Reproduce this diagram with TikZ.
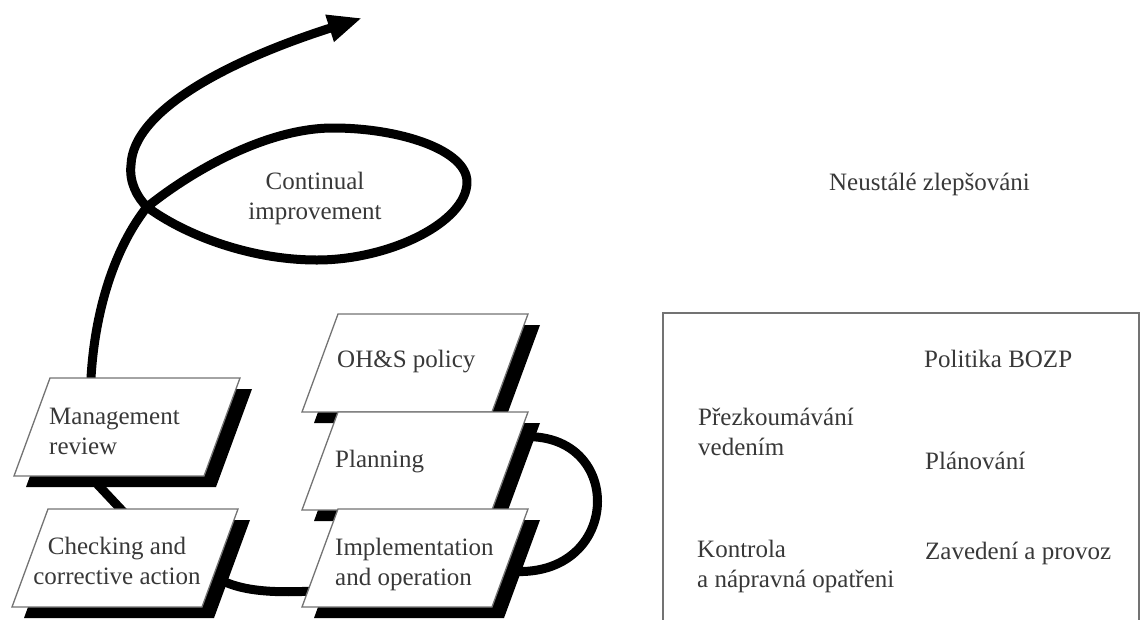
\documentclass[tikz,border=0pt]{standalone}
\usepackage{fontspec}
\setmainfont{Liberation Serif}
\usetikzlibrary{arrows.meta}
\tikzset{
  conn/.style={line width=9pt, black, line join=round},
  boxedge/.style={draw=black!55, line width=1.3pt, fill=white},
  lbl/.style={font=\fontsize{25}{30}\selectfont, text=black!78, inner sep=0pt},
  frameline/.style={draw=black!55, line width=1.3pt},
}
\newcommand\slantbox[3]{% name, x, y (top-left corner, pixel coords)
  \fill[black] (#2+12,#3+11) -- ++(190,0) -- ++(-36,98) -- ++(-190,0) -- cycle;
  \draw[boxedge] (#2,#3) coordinate (#1) -- ++(190,0) -- ++(-36,98) -- ++(-190,0) -- cycle;
}
\begin{document}
\begin{tikzpicture}[x=1pt,y=-1pt]
\useasboundingbox (0,0) rectangle (1141,619);
% connector points
\coordinate (s0) at (92,440);
\coordinate (cross) at (147,207);
\coordinate (etop) at (333,128);
\coordinate (eright) at (467,182);
\coordinate (ebot) at (317,260);
\coordinate (lleft) at (131,165);
\coordinate (tip) at (362,18);
\coordinate (mc1) at (84,470);
\coordinate (mc2) at (131,520);
\coordinate (ci1) at (200,565);
\coordinate (ci2) at (330,590);
\coordinate (pi1) at (500,440);
\coordinate (pi2) at (500,570);
% spiral
\draw[conn, -{Triangle[length=34pt,width=26pt]}]
  (s0) .. controls (84,350) and (105,260) .. (cross)
       .. controls (197,167) and (270,128) .. (etop)
       .. controls (400,128) and (467,150) .. (eright)
       .. controls (467,222) and (390,260) .. (ebot)
       .. controls (250,260) and (185,235) .. (cross)
       .. controls (137,197) and (129,182) .. (lleft)
       .. controls (133,110) and (230,60) .. (tip);
\draw[conn] (mc1) -- (mc2);
\draw[conn] (ci1) .. controls (225,590) and (260,595) .. (ci2);
\draw[conn] (pi1) .. controls (630,410) and (630,590) .. (pi2);
% boxes
\slantbox{mgmt}{50}{378}
\slantbox{check}{48}{509}
\slantbox{ohs}{338}{314}
\slantbox{plan}{338}{412}
\slantbox{impl}{338}{509}
% labels (base anchor of a multi-line node = baseline of its last line)
\node[lbl, align=center] (tcont) at (315,198) {Continual\\improvement};
\node[lbl, anchor=base west, align=left] (tmgmt) at (49,454) {Management\\review};
\node[lbl, anchor=base, align=center] (tcheck) at (117,584) {Checking and\\corrective action};
\node[lbl, anchor=base west] (tohs) at (337,367) {OH\&S policy};
\node[lbl, anchor=base west] (tplan) at (335,467) {Planning};
\node[lbl, anchor=base west, align=left] (timpl) at (335,585) {Implementation\\and operation};
% right panel
\node[lbl, anchor=base east] (tneu) at (1030,190) {Neustálé zlepšováni};
\draw[frameline] (663,640) -- (663,313) -- (1139,313) -- (1139,640);
\node[lbl, anchor=base west] (tpol) at (924,367) {Politika BOZP};
\node[lbl, anchor=base west, align=left] (tprez) at (698,455) {Přezkoumávání\\vedením};
\node[lbl, anchor=base west] (tplanc) at (925,469) {Plánování};
\node[lbl, anchor=base west, align=left] (tkon) at (697,587) {Kontrola\\a nápravná opatřeni};
\node[lbl, anchor=base west] (tzav) at (925,559) {Zavedení a provoz};
\end{tikzpicture}
\end{document}
